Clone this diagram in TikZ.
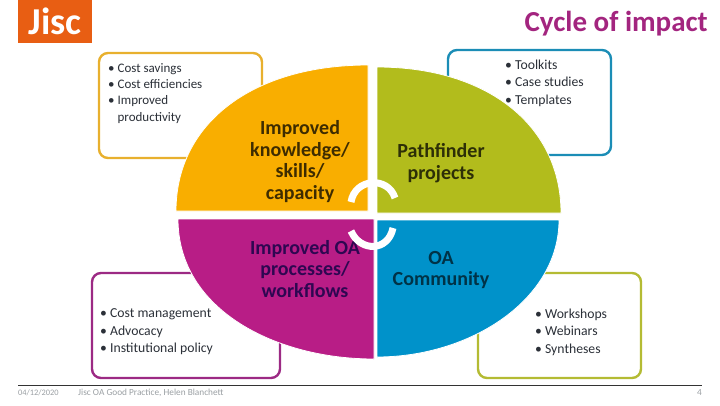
\documentclass[tikz,border=0pt]{standalone}
\usepackage{fontspec}
\setmainfont{Carlito}
\tikzset{
    infobox/.style={rounded corners=9pt, line width=2.4pt, fill=white},
    quarter/.style={draw=white, line width=0.8pt},
    quarterlabel/.style={align=center, font=\fontsize{20}{21.6}\bfseries\selectfont, inner sep=0pt},
    bullets/.style={align=left, anchor=north west, text=bulletColour, font=\fontsize{13.7}{17.5}\selectfont, inner sep=0pt},
    footer/.style={text=footerColour, font=\fontsize{9.3}{11}\selectfont, inner sep=0pt},
    cyclearc/.style={draw=white, line width=7pt}
}
\begin{document}
\begin{tikzpicture}[x=1pt, y=-1pt]
    % Define colours
    \definecolor{jiscOrange}{HTML}{E85E13}
    \definecolor{titleColour}{HTML}{A3257F}
    \definecolor{yellowFill}{HTML}{F9AE00}
    \definecolor{yellowLine}{HTML}{E8B02E}
    \definecolor{greenFill}{HTML}{B2BC1C}
    \definecolor{greenLine}{HTML}{B4BB33}
    \definecolor{purpleFill}{HTML}{B81D86}
    \definecolor{purpleLine}{HTML}{9C2A84}
    \definecolor{blueFill}{HTML}{0092CA}
    \definecolor{blueLine}{HTML}{1B8DB6}
    \definecolor{bulletColour}{HTML}{2B3038}
    \definecolor{footerColour}{HTML}{9A9FA3}

    % Fix the page size
    \useasboundingbox (0,0) rectangle (720,405);

    % Draw logo and title
    \fill[jiscOrange] (18,0) rectangle (92,43);
    \node[text=white, font=\fontsize{38}{38}\bfseries\selectfont, inner sep=0pt] (logo) at (55,21) {Jisc};
    \node[anchor=east, text=titleColour, font=\fontsize{29}{30}\bfseries\selectfont, inner sep=0pt] (title) at (708,24) {Cycle of impact};

    % Draw the four boxes behind the circle
    \draw[infobox, draw=yellowLine] (99,53) rectangle (262,158);
    \draw[infobox, draw=blueLine] (448,50) rectangle (611,155);
    \draw[infobox, draw=purpleLine] (92,273) rectangle (280,378);
    \draw[infobox, draw=greenLine] (478,273) rectangle (641,378);

    % Draw the four quarters
    \filldraw[quarter, fill=yellowFill] (368,211) -- (176,211) .. controls (176,123) and (253,65) .. (368,65) -- cycle;
    \filldraw[quarter, fill=greenFill] (377,213) -- (377,67) .. controls (487,67) and (561,125) .. (561,213) -- cycle;
    \filldraw[quarter, fill=purpleFill] (374,219) -- (178,219) .. controls (178,310) and (276,359) .. (374,359) -- cycle;
    \filldraw[quarter, fill=blueFill] (377,220) -- (559,220) .. controls (559,300) and (470,357) .. (377,357) -- cycle;

    % Label the quarters
    \node[quarterlabel, text=black!75!yellowFill] (knowledge) at (300,161.5) {Improved\\knowledge/\\skills/\\capacity};
    \node[quarterlabel, text=black!75!greenFill] (pathfinder) at (441,163) {Pathfinder\\projects};
    \node[quarterlabel, text=blue!25!black!75!purpleFill] (processes) at (305,269) {Improved OA\\processes/\\workflows};
    \node[quarterlabel, text=black!65!blueFill] (community) at (441,270) {OA\\Community};

    % Draw the two arcs of the cycle
    \draw[cyclearc] (351,202) .. controls (355,178) and (388,176) .. (395,198);
    \draw[cyclearc] (351,231) .. controls (360,252) and (388,252) .. (393,228);

    % Fill in the boxes
    \node[bullets, font=\fontsize{13}{16.4}\selectfont] (savings) at (108,63) {• Cost savings\\• Cost efficiencies\\• Improved\\\phantom{• }productivity};
    \node[bullets] (toolkits) at (505,59.5) {• Toolkits\\• Case studies\\• Templates};
    \node[bullets] (management) at (100,308.5) {• Cost management\\• Advocacy\\• Institutional policy};
    \node[bullets] (workshops) at (535,308.5) {• Workshops\\• Webinars\\• Syntheses};

    % Draw the footer
    \draw[black!80, line width=0.7pt] (18,385) -- (702,385);
    \node[footer, anchor=west, font=\fontsize{8.4}{11}\selectfont] (date) at (18,392.5) {04/12/2020};
    \node[footer, anchor=west] (source) at (78,392.5) {Jisc OA Good Practice, Helen Blanchett};
    \node[footer, anchor=east] (page) at (702,393) {4};
\end{tikzpicture}
\end{document}
